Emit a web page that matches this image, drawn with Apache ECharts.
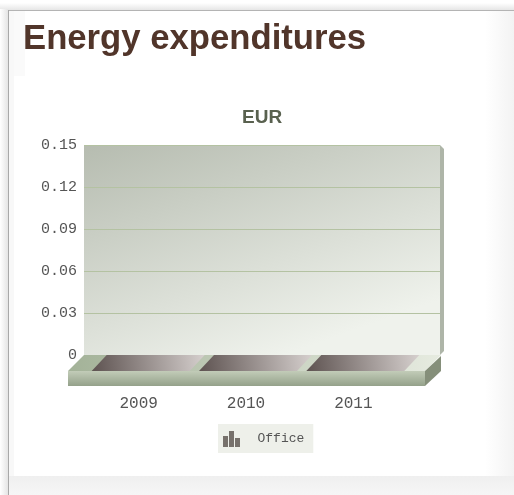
<!DOCTYPE html>
<html><head><meta charset="utf-8">
<style>
html,body{margin:0;padding:0;background:#fff;width:514px;height:495px;overflow:hidden}
#c{width:514px;height:495px}
</style>
<script src="https://cdn.jsdelivr.net/npm/echarts@6/dist/echarts.min.js"></script>
</head><body><div id="c"></div>
<script>
const categories = ['2009', '2010', '2011'];
const officeValues = [0, 0, 0];
const yTicks = [0, 0.03, 0.06, 0.09, 0.12, 0.15];
const seriesName = 'Office';
const chartTitle = 'Energy expenditures';
const unitTitle = 'EUR';

const grad = (x, y, x2, y2, a, b) => ({type:'linear', x, y, x2, y2, colorStops:[{offset:0,color:a},{offset:1,color:b}]});
const mono = '"Liberation Mono", monospace';
const chart = echarts.init(document.getElementById('c'), null, {renderer:'canvas'});

chart.setOption({
  animation:false,
  backgroundColor:'#ffffff',
  title:[
    {text:chartTitle,left:18,top:17,textStyle:{fontFamily:'"Liberation Sans",Arial,sans-serif',fontWeight:'bold',fontSize:34.7,color:'#51352a'}},
    {text:unitTitle,left:237,top:103,textStyle:{fontFamily:'"Liberation Sans",Arial,sans-serif',fontWeight:'bold',fontSize:19,color:'#59614f'}}
  ],
  legend:{
    left:218,top:424,itemWidth:18,itemHeight:16,itemGap:0,padding:[7,9,6,5],
    backgroundColor:'#eef0ea',
    data:[{name:seriesName,icon:'path://M0 5H5V16H0ZM6 0H11V16H6ZM12 7H17V16H12Z',itemStyle:{color:'#77716c'}}],
    textStyle:{fontFamily:mono,fontSize:13,color:'#555',padding:[0,0,0,12]}
  },
  grid:[
    {left:84,top:145,width:356,height:210,show:true,borderWidth:0,
     backgroundColor:grad(0,0,0.25,1.19,'#b6bcb0','#eff2ec')},
    {left:85,top:145,width:322,height:210,show:false}
  ],
  xAxis:[
    {gridIndex:0,type:'category',data:categories,axisLine:{show:false},axisTick:{show:false},axisLabel:{show:false},splitLine:{show:false}},
    {gridIndex:1,type:'category',data:categories,axisLine:{show:false},axisTick:{show:false},
     axisLabel:{margin:41,fontFamily:mono,fontSize:16,color:'#555'}}
  ],
  yAxis:[
    {gridIndex:0,type:'value',min:0,max:0.15,interval:0.03,axisLine:{show:false},axisTick:{show:false},
     axisLabel:{margin:7,fontFamily:mono,fontSize:15,color:'#555',formatter:v=>yTicks.includes(+v.toFixed(2))?String(+v.toFixed(2)):''},
     splitLine:{show:true,lineStyle:{color:'#b4c2a2',width:1}},z:2},
    {gridIndex:1,type:'value',min:0,max:0.15,interval:0.03,show:false}
  ],
  series:[{
    name:seriesName,type:'custom',xAxisIndex:1,yAxisIndex:1,coordinateSystem:'cartesian2d',z:10,
    data:officeValues.map((v,i)=>[i,v]),
    itemStyle:{color:'#77716c'},
    renderItem(params,api){
      const p=api.coord([api.value(0),api.value(1)]);
      const x=p[0],y=p[1];
      return {type:'polygon',shape:{points:[[x-47,y+16],[x+51,y+16],[x+66,y],[x-32,y]]},
        style:{fill:grad(0,1,1,0,'#5d5250','#d6d0ce')}};
    }
  }],
  graphic:[
    {type:'rect',z:-10,silent:true,shape:{x:0,y:0,width:514,height:495},style:{fill:'#ffffff'}},
    {type:'rect',z:-9,silent:true,shape:{x:0,y:3,width:514,height:7},style:{fill:grad(0,0,0,1,'#ffffff','#e6e6e6')}},
    {type:'rect',z:-9,silent:true,shape:{x:0,y:9,width:8,height:486},style:{fill:grad(0,0,1,0,'#ffffff','#e4e4e4')}},
    {type:'rect',z:-8,silent:true,shape:{x:8,y:10,width:506,height:1},style:{fill:'#b4b4b4'}},
    {type:'rect',z:-8,silent:true,shape:{x:8,y:10,width:1,height:485},style:{fill:'#a8a8a8'}},
    {type:'rect',z:-8,silent:true,shape:{x:9,y:11,width:5,height:465},style:{fill:'#f8f8f8'}},
    {type:'rect',z:-8,silent:true,shape:{x:14,y:11,width:11,height:65},style:{fill:'#fafafa'}},
    {type:'rect',z:-8,silent:true,shape:{x:485,y:11,width:29,height:465},style:{fill:grad(0,0,1,0,'rgba(243,243,243,0)','#f3f3f3')}},
    {type:'rect',z:-8,silent:true,shape:{x:9,y:476,width:505,height:19},style:{fill:grad(0,0,0,1,'#efefef','#f6f6f6')}},
    {type:'polygon',z:2,silent:true,shape:{points:[[440,145],[444,149],[444,351],[440,355]]},style:{fill:'#aeb5a8'}},
    {type:'polygon',z:3,silent:true,shape:{points:[[68,371],[425,371],[441,355],[84,355]]},style:{fill:grad(0,0,1,0,'#a3b298','#e6ebe0')}},
    {type:'rect',z:3,silent:true,shape:{x:68,y:371,width:357,height:15},style:{fill:grad(0,0,0,1,'#c2ccb8','#94a18a')}},
    {type:'polygon',z:3,silent:true,shape:{points:[[425,371],[441,356],[441,371],[425,386]]},style:{fill:'#858f7a'}}
  ]
});
</script></body></html>
